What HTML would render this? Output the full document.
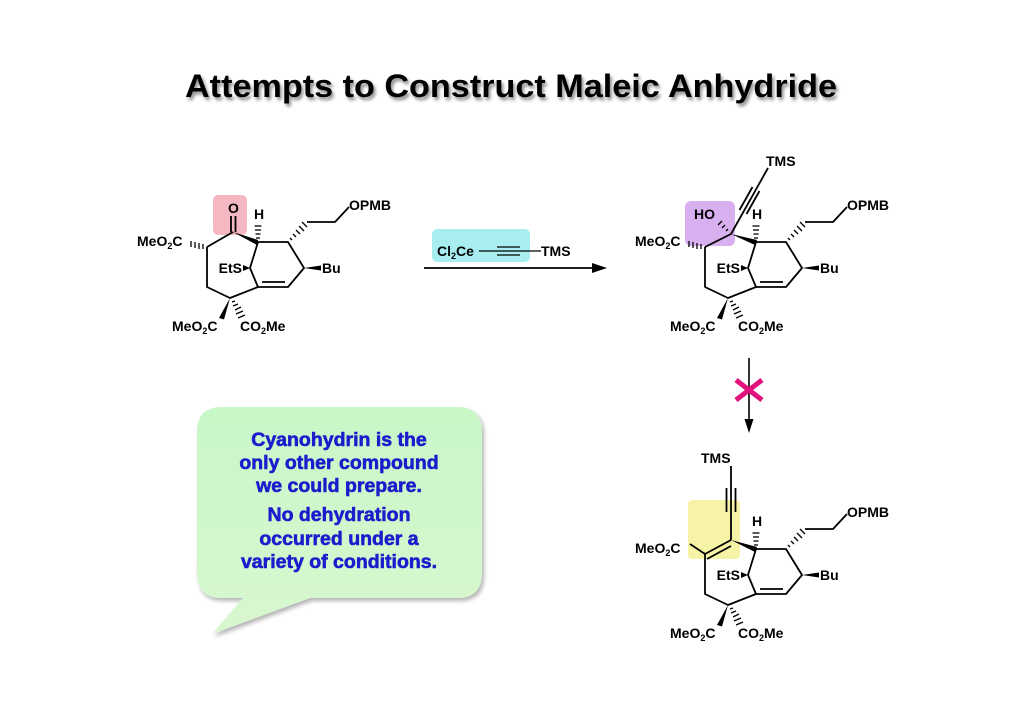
<!DOCTYPE html>
<html><head><meta charset="utf-8"><style>
html,body{margin:0;padding:0;background:#fff;}
svg{display:block;}
text{font-family:"Liberation Sans",Arial,sans-serif;font-weight:bold;fill:#000;}
.l{font-size:14px;}
.s{font-size:9px;}
</style></head><body>
<svg width="1024" height="724" viewBox="0 0 1024 724" xmlns="http://www.w3.org/2000/svg">
<defs>
<filter id="sh" x="-5%" y="-20%" width="110%" height="150%"><feGaussianBlur in="SourceAlpha" stdDeviation="1.5"/><feOffset dx="2" dy="3"/><feComponentTransfer><feFuncA type="linear" slope="0.45"/></feComponentTransfer><feMerge><feMergeNode/><feMergeNode in="SourceGraphic"/></feMerge></filter>
<filter id="bs" x="-10%" y="-10%" width="120%" height="130%"><feGaussianBlur in="SourceAlpha" stdDeviation="2"/><feOffset dx="2" dy="3"/><feComponentTransfer><feFuncA type="linear" slope="0.3"/></feComponentTransfer><feMerge><feMergeNode/><feMergeNode in="SourceGraphic"/></feMerge></filter>
<linearGradient id="gg" x1="0" y1="0" x2="0" y2="1"><stop offset="0" stop-color="#c8f7c8"/><stop offset="1" stop-color="#d9f7d0"/></linearGradient>
<g id="core">
 <g stroke="#000" stroke-width="1.8" fill="none" stroke-linejoin="round">
  <polyline points="207,247 207,287 230,298 258,287 250,268 258,242 288,242 304,268 288,287 258,287"/>
  <line x1="262" y1="282" x2="285" y2="282"/>
  <polyline points="307,222 335,222 349,207"/>
 </g>
 <g stroke="#000" stroke-width="1.3">
  <line x1="256" y1="238" x2="260" y2="238"/><line x1="255.5" y1="234" x2="260.5" y2="234"/><line x1="255" y1="230" x2="261" y2="230"/><line x1="254.5" y1="226" x2="261.5" y2="226"/>
  <line x1="290" y1="238" x2="292" y2="240"/><line x1="293" y1="234" x2="296" y2="237"/><line x1="296" y1="230" x2="300" y2="234"/><line x1="299" y1="226" x2="304" y2="231"/><line x1="302" y1="222" x2="307" y2="227"/>
  <line x1="232" y1="302" x2="235" y2="301"/><line x1="233" y1="306" x2="238" y2="304"/><line x1="235" y1="310" x2="241" y2="307"/><line x1="236" y1="314" x2="243" y2="311"/><line x1="238" y1="318" x2="245" y2="315"/>
 </g>
 <polygon points="304,268 321,265.5 321,270.5" fill="#000"/>
 <polygon points="250,268 243,265 243,271" fill="#000"/>
 <polygon points="230,298 219,318 224,319.5" fill="#000"/>
 <text class="l" x="254" y="219">H</text>
 <text class="l" x="242" y="273" text-anchor="end">EtS</text>
 <text class="l" x="322" y="273">Bu</text>
 <text class="l" x="349" y="210">OPMB</text>
 <text class="l" x="172" y="331">MeO<tspan class="s" dy="3">2</tspan><tspan dy="-3">C</tspan></text>
 <text class="l" x="240" y="331">CO<tspan class="s" dy="3">2</tspan><tspan dy="-3">Me</tspan></text>
</g>
</defs>

<text x="185" y="97" font-size="32" textLength="652" lengthAdjust="spacingAndGlyphs" filter="url(#sh)">Attempts to Construct Maleic Anhydride</text>

<!-- Molecule 1 -->
<rect x="213" y="195" width="34" height="40" rx="5" fill="#f6b8c0"/>
<use href="#core"/>
<g stroke="#000" stroke-width="1.8" fill="none">
 <line x1="207" y1="247" x2="233" y2="232"/>
 <line x1="231" y1="232" x2="231" y2="216"/><line x1="235.5" y1="232" x2="235.5" y2="216"/>
</g>
<polygon points="233,232 258,240 257,245" fill="#000"/>
<g stroke="#000" stroke-width="1.3">
 <line x1="203" y1="244" x2="203" y2="249"/><line x1="199" y1="243" x2="199" y2="249"/><line x1="195" y1="242" x2="195" y2="248"/><line x1="191" y1="241" x2="191" y2="247"/>
</g>
<text class="l" x="228" y="213">O</text>
<text class="l" x="137" y="246">MeO<tspan class="s" dy="3">2</tspan><tspan dy="-3">C</tspan></text>

<!-- Reagent arrow -->
<rect x="432" y="229" width="98" height="33" rx="5" fill="#a8eef0"/>
<text class="l" x="437" y="256">Cl<tspan class="s" dy="3">2</tspan><tspan dy="-3">Ce</tspan></text>
<g stroke="#000" stroke-width="1.3">
 <line x1="479" y1="251" x2="541" y2="251"/>
 <line x1="497" y1="247" x2="520" y2="247"/><line x1="497" y1="255" x2="520" y2="255"/>
 <line x1="424" y1="268" x2="596" y2="268" stroke-width="1.8"/>
</g>
<polygon points="607,268 592,263 592,273" fill="#000"/>
<text class="l" x="541" y="256">TMS</text>

<!-- Molecule 2 -->
<rect x="685" y="201" width="50" height="45" rx="6" fill="#d8b0f0"/>
<g transform="translate(498,0)"><use href="#core"/></g>
<g stroke="#000" stroke-width="1.8" fill="none">
 <line x1="705" y1="247" x2="731" y2="234"/>
 <line x1="731" y1="234" x2="768" y2="168"/>
 <line x1="739.5" y1="210" x2="752.5" y2="187"/><line x1="746.5" y1="214" x2="759.5" y2="191"/>
</g>
<polygon points="731,234 757,240 755,245" fill="#000"/>
<g stroke="#000" stroke-width="1.3">
 <line x1="701" y1="244" x2="701" y2="249"/><line x1="697" y1="243" x2="697" y2="249"/><line x1="693" y1="242" x2="693" y2="248"/><line x1="689" y1="241" x2="689" y2="247"/>
 <line x1="726" y1="231" x2="728" y2="229"/><line x1="722" y1="228" x2="725" y2="225"/><line x1="718" y1="225" x2="722" y2="221"/>
</g>
<text class="l" x="694" y="219">HO</text>
<text class="l" x="635" y="246">MeO<tspan class="s" dy="3">2</tspan><tspan dy="-3">C</tspan></text>
<text class="l" x="766" y="166">TMS</text>

<!-- blocked arrow -->
<line x1="749" y1="358" x2="749" y2="422" stroke="#000" stroke-width="1.6"/>
<polygon points="749,433 744.5,419 753.5,419" fill="#000"/>
<g stroke="#e0137d" stroke-width="5" stroke-linecap="butt">
 <line x1="736" y1="380" x2="762" y2="400"/><line x1="762" y1="380" x2="736" y2="400"/>
</g>

<!-- Molecule 3 -->
<rect x="688" y="500" width="52" height="59" rx="4" fill="#f7f3a6"/>
<g transform="translate(498,307)"><use href="#core"/></g>
<g stroke="#000" stroke-width="1.8" fill="none">
 <line x1="705" y1="554" x2="731" y2="540"/>
 <line x1="707" y1="559" x2="731" y2="546"/>
 <line x1="705" y1="554" x2="690" y2="544"/>
 <line x1="731" y1="540" x2="731" y2="466"/>
 <line x1="726.5" y1="512" x2="726.5" y2="488"/><line x1="735.5" y1="512" x2="735.5" y2="488"/>
</g>
<polygon points="731,540 757,547 755,552" fill="#000"/>
<text class="l" x="635" y="553">MeO<tspan class="s" dy="3">2</tspan><tspan dy="-3">C</tspan></text>
<text class="l" x="701" y="463">TMS</text>

<!-- speech bubble -->
<path d="M222,407 H457 Q482,407 482,432 V573 Q482,598 457,598 H310 L212,634 L243,598 H222 Q197,598 197,573 V432 Q197,407 222,407 Z" fill="url(#gg)" filter="url(#bs)"/>
<g font-size="19.5" text-anchor="middle">
 <text x="339" y="446" style="fill:#1c1ccc;stroke:#1c1ccc;stroke-width:0.6">Cyanohydrin is the</text>
 <text x="339" y="469" style="fill:#1c1ccc;stroke:#1c1ccc;stroke-width:0.6">only other compound</text>
 <text x="339" y="492" style="fill:#1c1ccc;stroke:#1c1ccc;stroke-width:0.6">we could prepare.</text>
 <text x="339" y="521" style="fill:#1c1ccc;stroke:#1c1ccc;stroke-width:0.6">No dehydration</text>
 <text x="339" y="545" style="fill:#1c1ccc;stroke:#1c1ccc;stroke-width:0.6">occurred under a</text>
 <text x="339" y="568" style="fill:#1c1ccc;stroke:#1c1ccc;stroke-width:0.6">variety of conditions.</text>
</g>
</svg>
</body></html>
